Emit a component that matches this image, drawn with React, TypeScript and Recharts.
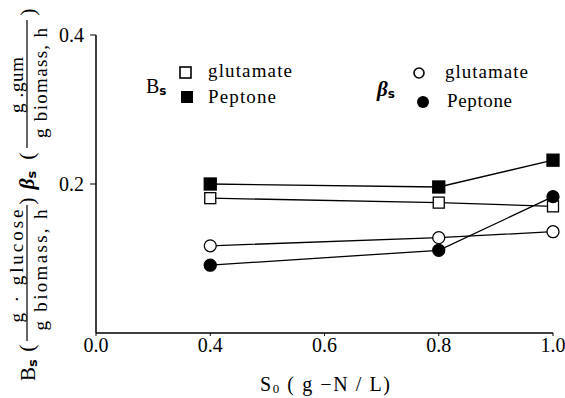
import React from 'react';
import { LineChart, Line, XAxis, YAxis, Customized } from 'recharts';

const categories = ['0.0', '0.4', '0.6', '0.8', '1.0'];
const bsGlutamate = [null, 0.181, null, 0.175, 0.17];
const bsPeptone = [null, 0.2, null, 0.196, 0.232];
const betaGlutamate = [null, 0.117, null, 0.128, 0.136];
const betaPeptone = [null, 0.091, null, 0.111, 0.183];
const yTicks = [0.2, 0.4];

const data = categories.map((c, i) => ({
  x: c,
  bsG: bsGlutamate[i],
  bsP: bsPeptone[i],
  btG: betaGlutamate[i],
  btP: betaPeptone[i],
}));

const SERIF = '"Liberation Serif", "DejaVu Serif", serif';
const SANS = '"DejaVu Sans", "Liberation Sans", sans-serif';

const squareDot = (filled: boolean) => (p: any) => {
  if (p.value == null || p.cx == null || p.cy == null) return <g key={`e${p.index}`} />;
  const s = filled ? 12 : 11;
  return (
    <rect
      key={`s${p.index}`}
      x={p.cx - s / 2}
      y={p.cy - s / 2}
      width={s}
      height={s}
      fill={filled ? '#000' : '#fff'}
      stroke="#000"
      strokeWidth={1.3}
    />
  );
};

const circleDot = (filled: boolean) => (p: any) => {
  if (p.value == null || p.cx == null || p.cy == null) return <g key={`e${p.index}`} />;
  return (
    <circle
      key={`c${p.index}`}
      cx={p.cx}
      cy={p.cy}
      r={6}
      fill={filled ? '#000' : '#fff'}
      stroke="#000"
      strokeWidth={1.3}
    />
  );
};

const RT = ({ x, y, size = 19, len, children }: any) => (
  <text
    transform={`translate(${x},${y}) rotate(-90)`}
    textAnchor="middle"
    dominantBaseline="central"
    style={{ fontFamily: SERIF }}
    fontSize={size}
    fill="#000"
    {...(len ? { textLength: len, lengthAdjust: 'spacing' } : {})}
  >
    {children}
  </text>
);

const Decorations = () => (
  <g>
    {/* Y axis label (rotated, reading bottom to top) */}
    <RT x={28} y={370} size={21}>
      B
      <tspan style={{ fontFamily: SANS }} fontWeight="bold" fontSize={13} dy={4}>
        s
      </tspan>
    </RT>
    <RT x={26} y={348} size={22}>(</RT>
    <RT x={16} y={266} len={113}>g · glucose</RT>
    <line x1={27} x2={27} y1={205} y2={341} stroke="#000" strokeWidth={1.2} />
    <RT x={40} y={270} len={121}>g biomass, h</RT>
    <RT x={26} y={201} size={22}>)</RT>
    <RT x={27} y={180} size={21}>
      <tspan fontWeight="bold" fontStyle="italic">β</tspan>
      <tspan style={{ fontFamily: SANS }} fontWeight="bold" fontSize={13} dy={4}>
        s
      </tspan>
    </RT>
    <RT x={26} y={156} size={22}>(</RT>
    <RT x={16} y={85} len={56}>g .gum</RT>
    <line x1={27} x2={27} y1={20} y2={148} stroke="#000" strokeWidth={1.2} />
    <RT x={40} y={83} len={110}>g biomass, h</RT>
    <RT x={27} y={12} size={22}>)</RT>

    {/* X axis label */}
    <text
      x={260}
      y={391}
      style={{ fontFamily: SERIF }}
      fontSize={20}
      fill="#000"
      textLength={130}
      lengthAdjust="spacing"
    >
      S
      <tspan fontSize={13} dy={2}>0</tspan>
      <tspan dy={-2}> ( g −N / L)</tspan>
    </text>

    {/* Legend: Bs */}
    <text x={146} y={93} style={{ fontFamily: SERIF }} fontSize={20} fill="#000">
      B
      <tspan style={{ fontFamily: SANS }} fontWeight="bold" fontSize={12} dy={2}>
        s
      </tspan>
    </text>
    <rect x={180} y={67} width={11} height={11} fill="#fff" stroke="#000" strokeWidth={1.6} />
    <rect x={181} y={91} width={12} height={12} fill="#000" />
    <text x={208} y={77} style={{ fontFamily: SERIF }} fontSize={19} fill="#000" textLength={84} lengthAdjust="spacing">
      glutamate
    </text>
    <text x={208} y={103} style={{ fontFamily: SERIF }} fontSize={19} fill="#000" textLength={68} lengthAdjust="spacing">
      Peptone
    </text>

    {/* Legend: beta s */}
    <text x={377} y={96} style={{ fontFamily: SERIF }} fontSize={21} fill="#000">
      <tspan fontWeight="bold" fontStyle="italic">β</tspan>
      <tspan style={{ fontFamily: SANS }} fontWeight="bold" fontSize={12} dy={2}>
        s
      </tspan>
    </text>
    <circle cx={419} cy={73} r={5} fill="#fff" stroke="#000" strokeWidth={1.6} />
    <circle cx={423} cy={102} r={6} fill="#000" />
    <text x={445} y={78} style={{ fontFamily: SERIF }} fontSize={19} fill="#000" textLength={83} lengthAdjust="spacing">
      glutamate
    </text>
    <text x={447} y={107} style={{ fontFamily: SERIF }} fontSize={19} fill="#000" textLength={65} lengthAdjust="spacing">
      Peptone
    </text>
  </g>
);

const XTick = (p: any) => (
  <text
    x={p.x}
    y={p.y + 16}
    textAnchor="middle"
    style={{ fontFamily: SERIF }}
    fontSize={20}
    fill="#000"
  >
    {p.payload.value}
  </text>
);

const YTick = (p: any) => (
  <text
    x={p.x}
    y={p.y + 7}
    textAnchor="end"
    style={{ fontFamily: SERIF }}
    fontSize={20}
    fill="#000"
  >
    {Number(p.payload.value).toFixed(1)}
  </text>
);

export default function App() {
  return (
    <div style={{ position: 'absolute', left: 0, top: 0, background: '#fff' }}>
      <LineChart
        width={565}
        height={398}
        data={data}
        margin={{ top: 35, right: 12, left: 36, bottom: 35 }}
      >
        <XAxis
          dataKey="x"
          height={30}
          tick={<XTick />}
          tickSize={3}
          tickMargin={0}
          axisLine={{ stroke: '#000', strokeWidth: 1.5 }}
          tickLine={{ stroke: '#000' }}
          interval={0}
        />
        <XAxis
          xAxisId="top"
          dataKey="x"
          orientation="top"
          height={0}
          tick={false}
          tickLine={false}
          axisLine={{ stroke: '#000', strokeWidth: 1.5 }}
        />
        <YAxis
          type="number"
          domain={[0, 0.4]}
          ticks={yTicks}
          width={60}
          tick={<YTick />}
          tickSize={6}
          tickMargin={6}
          axisLine={{ stroke: '#000', strokeWidth: 1.5 }}
          tickLine={{ stroke: '#000' }}
        />
        <YAxis
          yAxisId="r"
          type="number"
          domain={[0, 0.4]}
          orientation="right"
          width={0}
          tick={false}
          tickLine={false}
          axisLine={{ stroke: '#000', strokeWidth: 1.5 }}
        />
        <Line
          dataKey="bsG"
          stroke="#000"
          strokeWidth={1.3}
          connectNulls
          dot={squareDot(false)}
          isAnimationActive={false}
        />
        <Line
          dataKey="btG"
          stroke="#000"
          strokeWidth={1.3}
          connectNulls
          dot={circleDot(false)}
          isAnimationActive={false}
        />
        <Line
          dataKey="bsP"
          stroke="#000"
          strokeWidth={1.3}
          connectNulls
          dot={squareDot(true)}
          isAnimationActive={false}
        />
        <Line
          dataKey="btP"
          stroke="#000"
          strokeWidth={1.3}
          connectNulls
          dot={circleDot(true)}
          isAnimationActive={false}
        />
        <Customized component={Decorations} />
      </LineChart>
    </div>
  );
}
